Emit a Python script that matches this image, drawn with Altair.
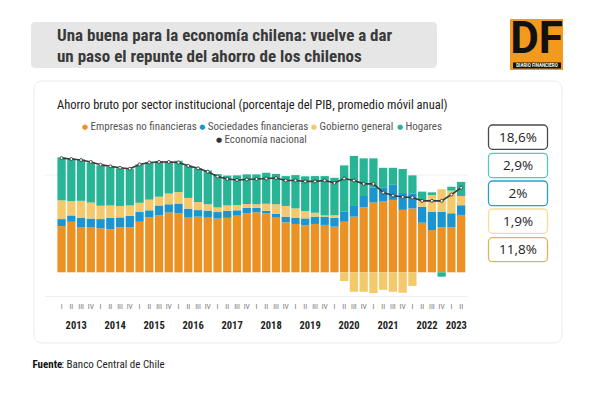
import altair as alt
import pandas as pd

# ---------------- data ----------------
years_full = list(range(2013, 2023))
romans = ["I", "II", "III", "IV"]
keys = [f"{y}-{q}" for y in years_full for q in romans] + ["2023-I", "2023-II"]
quarter_labels = [k.split("-")[1] for k in keys]
year_labels = [str(y) for y in range(2013, 2024)]

series_names = ["Empresas no financieras", "Sociedades financieras", "Gobierno general", "Hogares"]
series_colors = ["#EC9224", "#1B95CF", "#F3C96C", "#27B596"]

empresas = [9.5, 10.4, 9.2, 9.2, 9.05, 8.85, 9.25, 9.25, 10.4, 11.3,
            11.7, 12.3, 12.15, 11.25, 11.45, 11.25, 11.05, 11.2, 11.65, 12.15,
            12.35, 12.15, 11.25, 10.3, 9.95, 9.65, 9.95, 9.75, 9.4, 10.4,
            11.45, 13.35, 14.35, 14.55, 14.9, 12.85, 13.15, 10.2, 8.7, 9.25,
            9.25, 11.8]
sociedades = [1.45, 1.3, 2.05, 1.85, 1.9, 2.35, 2.05, 2.35, 2.0, 1.45,
              2.05, 1.7, 2.0, 1.85, 1.35, 1.45, 1.35, 1.45, 1.1, 1.1,
              0.95, 0.5, 0.75, 1.15, 1.3, 1.45, 1.5, 1.7, 1.85, 2.05,
              2.2, 2.35, 3.15, 2.95, 3.1, 3.45, 3.1, 3.3, 3.75, 3.2,
              2.9, 2.0]
gobierno = [3.85, 2.95, 3.45, 3.3, 2.75, 2.55, 2.35, 2.15, 1.9, 2.2,
            1.8, 2.2, 2.35, 2.2, 1.65, 1.3, 0.95, 1.1, 1.1, 0.8,
            0.7, 1.45, 2.0, 2.2, 1.9, 1.5, 0.8, 0.25, 0.5, -1.8,
            -4.0, -4.0, -4.3, -3.6, -4.0, -4.2, -2.8, 1.35, 3.45, 4.65,
            4.65, 1.9]
hogares = [8.85, 8.8, 8.55, 8.25, 8.3, 7.9, 7.75, 7.55, 7.9, 7.7,
           7.35, 6.65, 6.45, 6.65, 6.95, 6.95, 6.85, 6.15, 6.1, 6.1,
           6.15, 6.4, 6.25, 6.15, 6.85, 7.15, 7.55, 8.1, 7.7, 9.55,
           10.3, 7.75, 5.95, 4.0, 3.5, 4.95, 3.7, 1.75, 0.55, -0.9,
           0.8, 2.9]
nacional = [23.5, 23.3, 23.1, 22.7, 22.15, 21.8, 21.5, 21.3, 22.2, 22.6,
            22.7, 22.7, 22.6, 21.9, 21.4, 20.7, 19.7, 19.2, 19.0, 19.1,
            19.2, 19.3, 19.4, 18.9, 18.9, 18.7, 18.7, 18.9, 18.4, 19.3,
            18.9, 18.2, 18.2, 16.4, 15.8, 15.5, 15.4, 14.7, 14.7, 14.7,
            16.0, 17.4]

last_labels = ["18,6%", "2,9%", "2%", "1,9%", "11,8%"]
last_strokes = ["#4a4a4a", "#5CC7B5", "#2A9FCB", "#F6DC98", "#E2B25A"]
grid_values = [-5, 20]

# ---------------- tables ----------------
rows = []
for i, k in enumerate(keys):
    for o, (name, vals) in enumerate(zip(series_names, [empresas, sociedades, gobierno, hogares])):
        rows.append({"key": k, "serie": name, "valor": vals[i], "ord": o})
df_bars = pd.DataFrame(rows)
df_nat = pd.DataFrame({"key": keys, "nacional": nacional})
df_q = pd.DataFrame({"key": keys, "lab": quarter_labels})
year_anchor = [f"{y}-II" for y in years_full] + ["2023-I"]
df_y = pd.DataFrame({"key": year_anchor, "lab": year_labels})
df_grid = pd.DataFrame({"v": grid_values})

FONT = "Liberation Sans Narrow, Roboto Condensed, Roboto, sans-serif"
OFF = 8  # page margin

xscale = alt.Scale(domain=keys, range=[48.7, 458], paddingInner=0.15, paddingOuter=0.075)
yscale = alt.Scale(domain=[-5, 25], range=[288.6, 142.8], nice=False, zero=False)
X = alt.X("key:N", scale=xscale, axis=None, sort=keys)


def one():
    return alt.Chart(pd.DataFrame({"a": [0]}))


def txt(s, x, y, size, color="#222222", weight="normal", align="left", font=FONT):
    return alt.Chart(pd.DataFrame({"t": [s]})).mark_text(
        align=align, baseline="middle", fontSize=size, font=font,
        fontWeight=weight, color=color
    ).encode(x=alt.value(x - OFF), y=alt.value(y - OFF), text="t:N")


def box(x1, x2, y1, y2, fill, stroke=None, sw=0, r=0):
    kw = dict(fill=fill, cornerRadius=r)
    if stroke:
        kw.update(stroke=stroke, strokeWidth=sw)
    return one().mark_rect(**kw).encode(
        x=alt.value(x1 - OFF), x2=alt.value(x2 - OFF),
        y=alt.value(y1 - OFF), y2=alt.value(y2 - OFF))


layers = []
# card and title
layers.append(box(34, 562, 81, 343, "white", "#ebebeb", 1, 8))
layers.append(box(31, 437, 22, 68, "#E6E6E6", None, 0, 4))
layers.append(txt("Una buena para la economía chilena: vuelve a dar", 57, 36, 17, "#3a3a3a", "bold"))
layers.append(txt("un paso el repunte del ahorro de los chilenos", 57, 56.5, 17, "#3a3a3a", "bold"))
# logo
layers.append(box(510, 563, 19, 70, "#F39A1E"))
layers.append(txt("DF", 536.5, 40, 44, "#111111", "bold", "center", "Roboto, sans-serif"))
layers.append(box(513, 561, 62.5, 68.5, "#111111"))
layers.append(txt("DIARIO FINANCIERO", 537, 65.5, 4.5, "white", "bold", "center", "Roboto, sans-serif"))

# subtitle + legend
layers.append(txt("Ahorro bruto por sector institucional (porcentaje del PIB, promedio móvil anual)", 57, 104.5, 12.5, "#222222"))
leg_items = [(85, 126.5, 0), (202.3, 126.5, 1), (314, 126.5, 2), (400, 126.5, 3)]
for (lx, ly, si) in leg_items:
    layers.append(txt("●", lx, ly, 7, series_colors[si], "normal", "center", "DejaVu Sans"))
    layers.append(txt(series_names[si], lx + 5.5, ly, 11, "#555555"))
layers.append(txt("●", 219, 140, 7, "#333333", "normal", "center", "DejaVu Sans"))
layers.append(txt("Economía nacional", 224.5, 140, 11, "#555555"))

# grid
layers.append(alt.Chart(df_grid).mark_rule(color="#EFEFEF", strokeWidth=1).encode(
    y=alt.Y("v:Q", scale=yscale, axis=None), x=alt.value(37), x2=alt.value(460)))

# bars
layers.append(alt.Chart(df_bars).mark_bar().encode(
    x=X,
    y=alt.Y("valor:Q", stack="zero", scale=yscale, axis=None),
    color=alt.Color("serie:N", scale=alt.Scale(domain=series_names, range=series_colors), legend=None),
    order=alt.Order("ord:Q", sort="ascending"),
))

# national line
layers.append(alt.Chart(df_nat).mark_line(color="#3a3a3a", strokeWidth=1.6).encode(
    x=X, y=alt.Y("nacional:Q", scale=yscale, axis=None)))
layers.append(alt.Chart(df_nat).mark_point(filled=True, fill="white", stroke="#3a3a3a",
                                           strokeWidth=0.9, size=9, opacity=1).encode(
    x=X, y=alt.Y("nacional:Q", scale=yscale, axis=None)))

# axis labels
layers.append(alt.Chart(df_q).mark_text(fontSize=7.5, font=FONT, color="#777777", baseline="middle").encode(
    x=X, y=alt.value(306.5 - OFF), text="lab:N"))
layers.append(alt.Chart(df_y).mark_text(fontSize=10.5, font=FONT, fontWeight="bold", color="#222222",
                                        baseline="middle", dx=4.87).encode(
    x=X, y=alt.value(325.5 - OFF), text="lab:N"))

# right value boxes
box_y = [(125, 149.3), (153.3, 177.7), (181, 205.7), (209, 233.3), (237.7, 261.7)]
for (y1, y2), lab, sc in zip(box_y, last_labels, last_strokes):
    layers.append(box(488.5, 547.5, y1, y2, "white", sc, 1.3, 4))
    layers.append(txt(lab, 518, (y1 + y2) / 2 + 0.5, 13.5, "#222222", "normal", "center", "Open Sans, sans-serif"))

# footer
layers.append(txt("Fuente", 32.5, 365, 11, "#111111", "bold"))
layers.append(txt(": Banco Central de Chile", 61.5, 365, 11, "#222222"))

chart = alt.layer(*layers).properties(
    width=584, height=378, padding=0, autosize="none", background="white"
).configure_view(strokeWidth=0)

chart.save("out.html", embed_options={"renderer": "svg", "actions": False})
